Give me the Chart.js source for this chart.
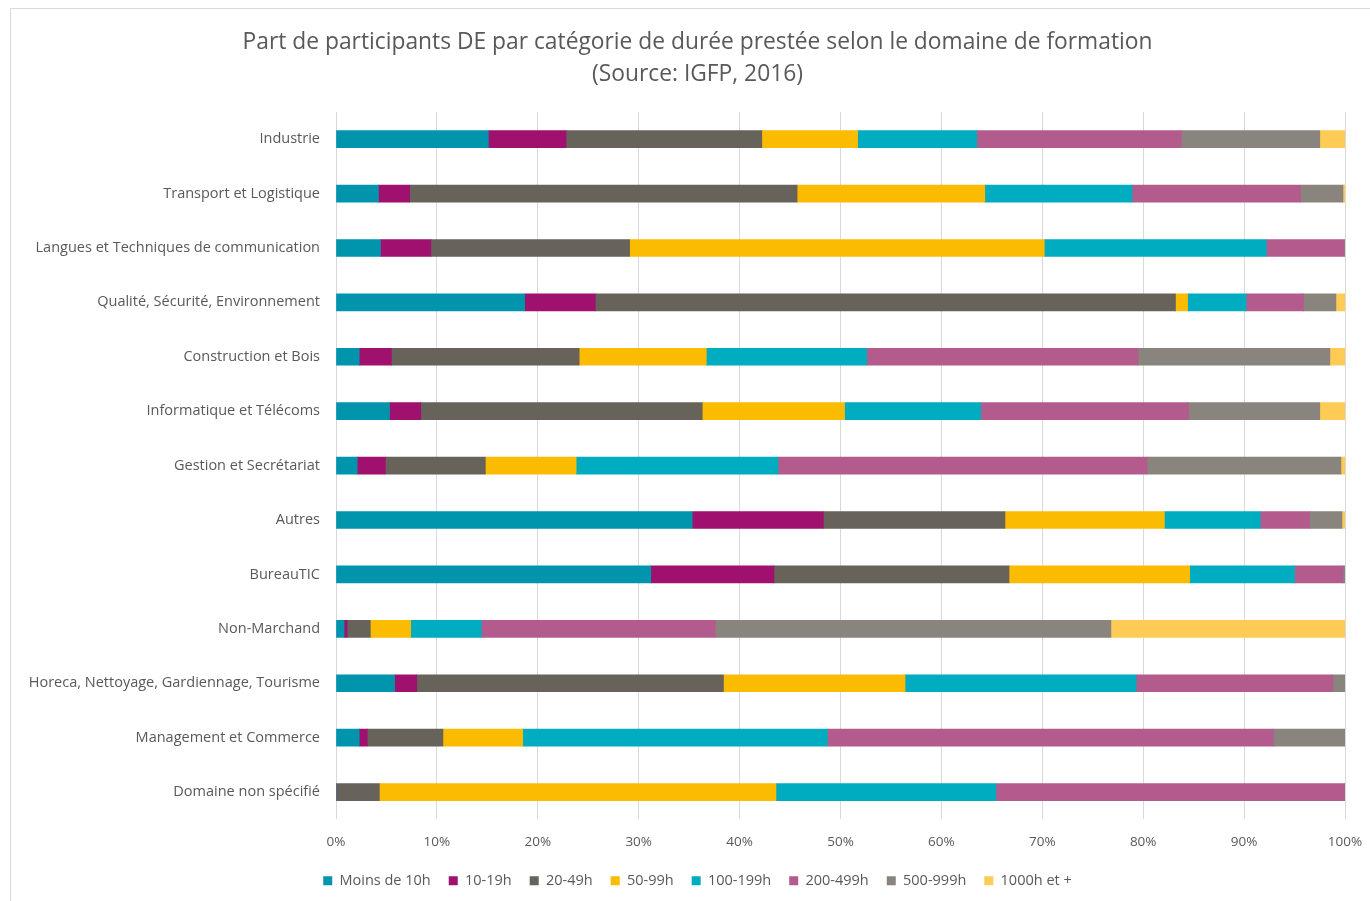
<!DOCTYPE html>
<html>
<head>
<meta charset="utf-8">
<script src="https://cdn.jsdelivr.net/npm/chart.js@4.4.1/dist/chart.umd.min.js"></script>
<style>
  html, body { margin: 0; padding: 0; background: #fff; }
  #frame { position: absolute; left: 10px; top: 8px; width: 1370px; height: 900px; border: 1px solid #d9d9d9; }
  #wrap { position: absolute; left: 0; top: 0; width: 1370px; height: 901px; }
</style>
</head>
<body>
<div id="frame"></div>
<div id="wrap"><canvas id="chart"></canvas></div>
<script>
// domaines de formation (de haut en bas)
const domaines = [
    'Industrie', 'Transport et Logistique', 'Langues et Techniques de communication',
    'Qualité, Sécurité, Environnement', 'Construction et Bois', 'Informatique et Télécoms',
    'Gestion et Secrétariat', 'Autres', 'BureauTIC', 'Non-Marchand',
    'Horeca, Nettoyage, Gardiennage, Tourisme', 'Management et Commerce', 'Domaine non spécifié'
];

// part (%) par catégorie de durée, un tableau par catégorie, dans l'ordre des domaines
const moins10h = [15.1, 4.2, 4.4, 18.7, 2.3, 5.3, 2.1, 35.3, 31.2, 0.8, 5.8, 2.3, 0];
const h10_19   = [7.7, 3.1, 5.0, 7.0, 3.2, 3.1, 2.8, 13.0, 12.2, 0.3, 2.2, 0.8, 0];
const h20_49   = [19.4, 38.4, 19.7, 57.5, 18.6, 27.9, 9.9, 18.0, 23.3, 2.3, 30.4, 7.5, 4.3];
const h50_99   = [9.5, 18.6, 41.1, 1.2, 12.6, 14.1, 9.0, 15.8, 17.9, 4.0, 18.0, 7.9, 39.3];
const h100_199 = [11.8, 14.6, 22.0, 5.8, 15.9, 13.5, 20.0, 9.5, 10.4, 7.0, 22.9, 30.2, 21.8];
const h200_499 = [20.3, 16.7, 7.7, 5.7, 26.9, 20.6, 36.6, 4.9, 4.8, 23.2, 19.5, 44.2, 34.6];
const h500_999 = [13.7, 4.2, 0.1, 3.2, 19.0, 13.0, 19.2, 3.2, 0.2, 39.2, 1.2, 7.1, 0];
const h1000    = [2.5, 0.2, 0, 0.9, 1.5, 2.5, 0.4, 0.3, 0, 23.2, 0, 0, 0];

const series = [
    { label: 'Moins de 10h', data: moins10h, color: '#0095ac' },
    { label: '10-19h', data: h10_19, color: '#a0106e' },
    { label: '20-49h', data: h20_49, color: '#67635b' },
    { label: '50-99h', data: h50_99, color: '#fabb00' },
    { label: '100-199h', data: h100_199, color: '#00acbf' },
    { label: '200-499h', data: h200_499, color: '#b35b8c' },
    { label: '500-999h', data: h500_999, color: '#89847d' },
    { label: '1000h et +', data: h1000, color: '#fecb55' }
];

const txt = '#595959';
const fam = '"Open Sans", sans-serif';

// les libellés longs débordent à gauche de la marge : on élargit la zone de clip de l'axe Y
const labelRoom = {
    id: 'labelRoom',
    afterLayout(chart) { chart.scales.y.left = 0; }
};

new Chart(document.getElementById('chart'), {
    type: 'bar',
    data: {
        labels: domaines,
        datasets: series.map(s => ({
            label: s.label, data: s.data, backgroundColor: s.color,
            borderWidth: 0, barThickness: 17
        }))
    },
    options: {
        indexAxis: 'y',
        responsive: true,
        maintainAspectRatio: false,
        animation: false,
        // padding gauche pour recentrer le titre et la légende comme dans l'original
        layout: { padding: { left: 50, right: 25, top: 0, bottom: 3 } },
        scales: {
            x: {
                stacked: true, min: 0, max: 100,
                ticks: { stepSize: 10, color: txt, font: { family: fam, size: 13.5 }, padding: 15, callback: v => v + '%' },
                grid: { color: '#d9d9d9', lineWidth: 1, drawTicks: false },
                border: { display: false },
                afterFit: scale => {
                    scale.paddingLeft = 0;
                    scale.paddingRight = 0;
                    scale.height -= 10;
                }
            },
            y: {
                stacked: true,
                ticks: { color: txt, font: { family: fam, size: 14.5 }, padding: 16 },
                grid: { display: false, drawTicks: false },
                border: { display: false },
                afterFit: scale => { scale.width = 286; }
            }
        },
        plugins: {
            title: {
                display: true,
                text: ['Part de participants DE par catégorie de durée prestée selon le domaine de formation', '(Source: IGFP, 2016)'],
                color: txt,
                font: { family: fam, size: 22.8, weight: 'normal', lineHeight: 1.38 },
                padding: { top: 27, bottom: 22 }
            },
            legend: {
                position: 'bottom',
                labels: { color: txt, font: { family: fam, size: 14.5 }, boxWidth: 9, boxHeight: 9, padding: 18 }
            },
            tooltip: { enabled: false }
        }
    },
    plugins: [labelRoom]
});
</script>
</body>
</html>
